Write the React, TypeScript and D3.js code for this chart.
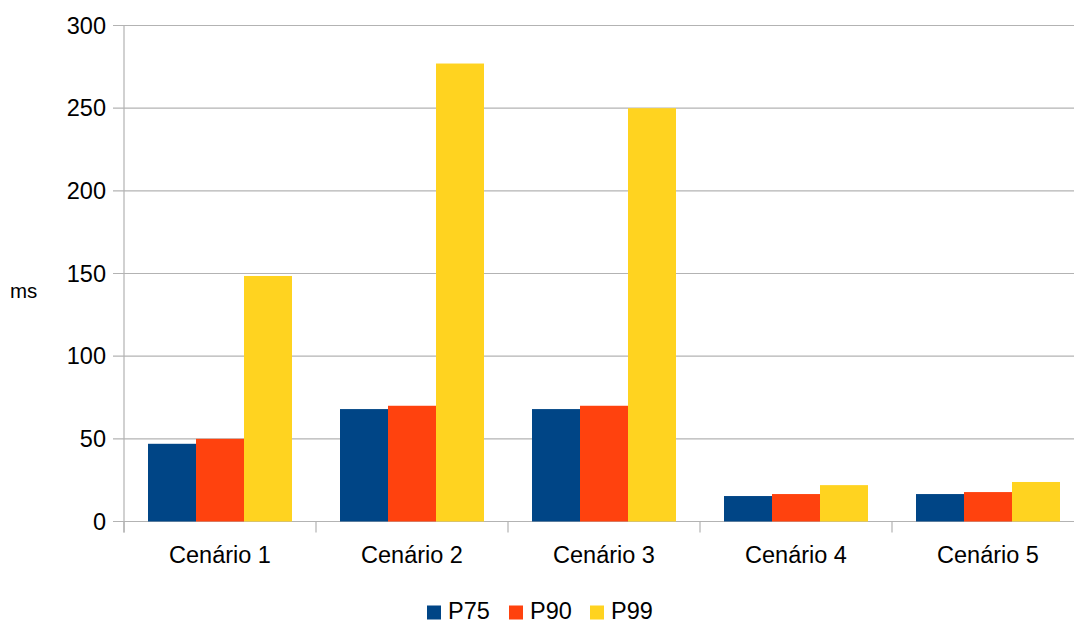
import { useEffect, useRef } from "react";
import * as d3 from "d3";

const categories = ["Cenário 1", "Cenário 2", "Cenário 3", "Cenário 4", "Cenário 5"];
const seriesNames = ["P75", "P90", "P99"];
const p75 = [47, 68, 68, 15.4, 16.6];
const p90 = [50, 70, 70, 16.6, 17.8];
const p99 = [148.5, 277, 250, 22, 23.9];
const yTicks = [0, 50, 100, 150, 200, 250, 300];
const colors = ["#004586", "#ff420e", "#ffd320"];

const W = 1074;
const H = 624;
const margin = { top: 25.5, left: 124, bottom: 102.5 };
const plotRight = 1084;

export default function App() {
  const ref = useRef<SVGSVGElement>(null);

  useEffect(() => {
    const svg = d3.select(ref.current);
    svg.selectAll("*").remove();
    const font = "'Liberation Sans', Arial, sans-serif";
    const values = [p75, p90, p99];

    const x = d3.scaleBand().domain(categories).range([margin.left, plotRight]).paddingInner(0).paddingOuter(0);
    const inner = d3.scaleBand().domain(seriesNames).range([0, x.bandwidth()]).paddingOuter(0.5).paddingInner(0);
    const y = d3.scaleLinear().domain([0, 300]).range([H - margin.bottom, margin.top]);

    const g = svg.append("g");
    // grid + y ticks
    yTicks.forEach((t) => {
      g.append("line")
        .attr("x1", margin.left - 11).attr("x2", plotRight)
        .attr("y1", y(t)).attr("y2", y(t))
        .attr("stroke", "#b3b3b3").attr("stroke-width", 1.2);
      g.append("text")
        .attr("x", 106).attr("y", y(t) + 8)
        .attr("text-anchor", "end")
        .attr("font-family", font).attr("font-size", 23.5)
        .attr("fill", "#000")
        .text(t);
    });

    // y axis line
    g.append("line")
      .attr("x1", margin.left).attr("x2", margin.left)
      .attr("y1", margin.top).attr("y2", y(0) + 11)
      .attr("stroke", "#b3b3b3").attr("stroke-width", 1.2);

    // x ticks
    const xt = categories.map((c) => x(c)!).concat([plotRight]);
    xt.forEach((px) => {
      g.append("line")
        .attr("x1", px).attr("x2", px)
        .attr("y1", y(0)).attr("y2", y(0) + 11)
        .attr("stroke", "#b3b3b3").attr("stroke-width", 1.2);
    });

    // bars
    categories.forEach((c, ci) => {
      seriesNames.forEach((s, si) => {
        const v = values[si][ci];
        g.append("rect")
          .attr("x", x(c)! + inner(s)!)
          .attr("width", inner.bandwidth())
          .attr("y", y(v))
          .attr("height", y(0) - y(v))
          .attr("fill", colors[si]);
      });
      g.append("text")
        .attr("x", x(c)! + x.bandwidth() / 2)
        .attr("y", 563)
        .attr("text-anchor", "middle")
        .attr("font-family", font).attr("font-size", 23.5)
        .attr("fill", "#000")
        .text(c);
    });

    // axis title
    svg.append("text")
      .attr("x", 10).attr("y", 298)
      .attr("font-family", font).attr("font-size", 20.5)
      .attr("fill", "#000")
      .text("ms");

    // legend
    const legendX = [427, 509, 590];
    seriesNames.forEach((s, i) => {
      svg.append("rect")
        .attr("x", legendX[i]).attr("y", 605.5)
        .attr("width", 14).attr("height", 14)
        .attr("fill", colors[i]);
      svg.append("text")
        .attr("x", legendX[i] + 21).attr("y", 619)
        .attr("font-family", font).attr("font-size", 23.5)
        .attr("fill", "#000")
        .text(s);
    });
  }, []);

  return (
    <div style={{ position: "absolute", left: 0, top: 0 }}>
      <svg ref={ref} width={W} height={H} style={{ display: "block", background: "#fff" }} />
    </div>
  );
}
